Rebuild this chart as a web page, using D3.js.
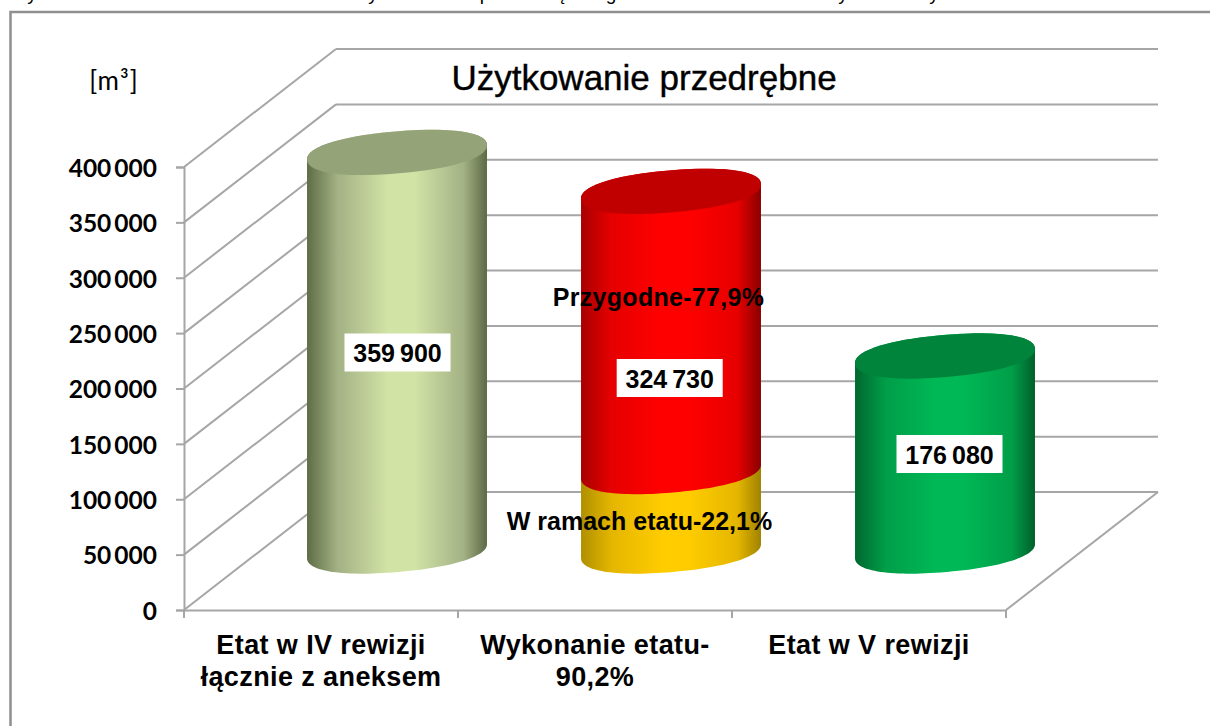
<!DOCTYPE html>
<html lang="pl">
<head>
<meta charset="utf-8">
<script src="https://cdn.jsdelivr.net/npm/d3@7"></script>
<style>
  html, body { margin: 0; background: #fff; overflow: hidden; }
  svg { display: block; }
  text { font-family: "Liberation Sans", Arial, sans-serif; fill: #000; }
  .ytick text { font-family: Lato, sans-serif; font-weight: 700; font-size: 24.5px; }
</style>
</head>
<body>
<div id="app"></div>
<script>
// data
const categories = ['Etat w IV rewizji łącznie z aneksem', 'Wykonanie etatu-90,2%', 'Etat w V rewizji'];
const categoryLines = [['Etat w IV rewizji', 'łącznie z aneksem'], ['Wykonanie etatu-', '90,2%'], ['Etat w V rewizji']];
const etatIV = [359900];
const wykonanie = [71765, 252965]; // w ramach etatu, przygodne
const etatV = [176080];
const barTotals = [359900, 324730, 176080];
const yTicks = [0, 50000, 100000, 150000, 200000, 250000, 300000, 350000, 400000];
const clippedGlyphs = [['y', 32], ['y', 373], ['p', 485], ['ą', 559], ['g', 611], ['y', 843], ['y', 934]];

const w = 1210;
const h = 726;
const depthX = 152;
const depthY = -118;
const gridColor = '#a6a6a6';

const xScale = d3.scaleBand().domain(categories).range([184, 1006]);
const yScale = d3.scaleLinear().domain([0, 400000]).range([610, 167]);

const fmt = d3.formatLocale({ decimal: ',', thousands: '\u2009', grouping: [3], currency: ['', ''] }).format(',d');

const svg = d3.select('#app').append('svg').attr('width', w).attr('height', h);
const defs = svg.append('defs');

function sideGradient(id, edgeL, mid, light, edgeR) {
  const g = defs.append('linearGradient').attr('id', id);
  [[0, edgeL], [0.17, mid], [0.45, light], [0.6, light], [0.87, mid], [1, edgeR]].forEach((s) => {
    g.append('stop').attr('offset', s[0]).attr('stop-color', s[1]);
  });
}
sideGradient('olive', '#5f6d46', '#a3b184', '#d2e3a6', '#5c6945');
sideGradient('red', '#a80000', '#e60000', '#ff0000', '#8a0000');
sideGradient('gold', '#b09000', '#e4b600', '#ffcc00', '#a08200');
sideGradient('green', '#00672f', '#009e48', '#00b856', '#005f2b');

// page frame and the cut off line of text above it
svg.append('path').attr('d', `M10.5,${h}V12H${w}`).attr('fill', 'none').attr('stroke', '#8f8f8f').attr('stroke-width', 2.5);
svg.selectAll('.cut').data(clippedGlyphs).enter().append('text').attr('class', 'cut')
  .attr('x', (d) => d[1]).attr('y', 0).attr('font-size', 19).attr('text-anchor', 'middle').text((d) => d[0]);

// walls
const walls = svg.append('g').attr('fill', 'none').attr('stroke', gridColor).attr('stroke-width', 2);
const xLeft = xScale.range()[0];
const xRight = xScale.range()[1];
walls.selectAll('.back').data(yTicks).enter().append('line')
  .attr('x1', xLeft + depthX).attr('x2', xRight + depthX)
  .attr('y1', (d) => yScale(d) + depthY).attr('y2', (d) => yScale(d) + depthY);
walls.selectAll('.side').data(yTicks).enter().append('line')
  .attr('x1', xLeft).attr('x2', xLeft + depthX)
  .attr('y1', (d) => yScale(d)).attr('y2', (d) => yScale(d) + depthY);
walls.append('line').attr('x1', xRight).attr('x2', xRight + depthX)
  .attr('y1', yScale(0)).attr('y2', yScale(0) + depthY);

// axes
const yAxis = d3.axisLeft(yScale).tickValues(yTicks).tickFormat(fmt).tickSize(8).tickPadding(19);
const yG = svg.append('g').attr('class', 'ytick').attr('transform', `translate(${xLeft},0)`).call(yAxis);
yG.selectAll('.domain').attr('stroke', gridColor).attr('stroke-width', 2);
yG.selectAll('.tick line').attr('stroke', gridColor).attr('stroke-width', 2);
yG.selectAll('text').attr('dy', '0.38em');

const xAxis = d3.axisBottom(xScale).tickSize(0).tickPadding(0).tickFormat('');
const xG = svg.append('g').attr('transform', `translate(0,${yScale(0)})`).call(xAxis);
xG.select('.domain').attr('stroke', gridColor).attr('stroke-width', 2);
xG.selectAll('.edge').data(xScale.domain().map((c) => xScale(c)).concat(xRight)).enter().append('line')
  .attr('x1', (d) => d).attr('x2', (d) => d).attr('y1', 0).attr('y2', 8)
  .attr('stroke', gridColor).attr('stroke-width', 2);
xG.selectAll('.tick text').each(function (d, i) {
  const t = d3.select(this).attr('y', 0).attr('dy', null).attr('font-size', 27).attr('font-weight', 700)
    .attr('letter-spacing', 0.4).attr('fill', '#000');
  categoryLines[i].forEach((line, k) => {
    t.append('tspan').attr('x', 0).attr('y', 44 + k * 32).text(line);
  });
});

// cylinders, the rims are slightly squarer than a true ellipse
const rx = 90.3;
const ry = 21;
const tilt = -4.9 * Math.PI / 180;
const rimPower = 2 / 2.2;
const rimLine = d3.line().curve(d3.curveLinear);
const barCx = (c) => xScale(c) + xScale.bandwidth() / 2 + depthX / 2;
const barY = (v) => yScale(v) + depthY / 2;

function rimPoints(cx, cy, from, to) {
  return d3.range(0, 61).map((i) => {
    const t = from + (to - from) * i / 60;
    const c = Math.cos(t);
    const s = Math.sin(t);
    const px = rx * Math.sign(c) * Math.pow(Math.abs(c), rimPower);
    const py = ry * Math.sign(s) * Math.pow(Math.abs(s), rimPower);
    return [cx + px * Math.cos(tilt) - py * Math.sin(tilt), cy + px * Math.sin(tilt) + py * Math.cos(tilt)];
  });
}

function drawSegment(c, v0, v1, fill) {
  const cx = barCx(c);
  // bottom rim left to right, then top rim right to left over its upper half
  const pts = rimPoints(cx, barY(v0), Math.PI, 0).concat(rimPoints(cx, barY(v1), 0, -Math.PI));
  svg.append('path').attr('d', rimLine(pts) + 'Z').attr('fill', `url(#${fill})`);
}
function drawTop(c, v, fill) {
  svg.append('path').attr('d', rimLine(rimPoints(barCx(c), barY(v), 0, 2 * Math.PI)) + 'Z').attr('fill', fill);
}

drawSegment(categories[0], 0, etatIV[0], 'olive');
drawTop(categories[0], etatIV[0], '#95a378');

drawSegment(categories[1], 0, wykonanie[0], 'gold');
drawSegment(categories[1], wykonanie[0], wykonanie[0] + wykonanie[1], 'red');
drawTop(categories[1], wykonanie[0] + wykonanie[1], '#c00000');

drawSegment(categories[2], 0, etatV[0], 'green');
drawTop(categories[2], etatV[0], '#00843c');

// value labels
const labelOffset = [[0.5, 352.5], [-1.3, 378], [4.5, 454]];
const labels = svg.selectAll('.valueLabel').data(barTotals).enter().append('g')
  .attr('class', 'valueLabel')
  .attr('transform', (d, i) => `translate(${barCx(categories[i]) + labelOffset[i][0]},${labelOffset[i][1]})`);
labels.append('rect').attr('x', -53).attr('y', -19).attr('width', 106).attr('height', 38).attr('fill', '#fff');
labels.append('text').attr('text-anchor', 'middle').attr('y', 9.5).attr('font-size', 25).attr('font-weight', 700)
  .text((d) => fmt(d));

// annotations
svg.append('text').attr('x', 658.5).attr('y', 306).attr('text-anchor', 'middle')
  .attr('font-size', 25).attr('font-weight', 700).attr('letter-spacing', 0.3).text('Przygodne-77,9%');
svg.append('text').attr('x', 639.5).attr('y', 530).attr('text-anchor', 'middle')
  .attr('font-size', 25).attr('font-weight', 700).text('W ramach etatu-22,1%');

// title and unit
svg.append('text').attr('x', 644).attr('y', 90).attr('text-anchor', 'middle')
  .attr('font-size', 35).attr('stroke', '#000').attr('stroke-width', 0.4).text('Użytkowanie przedrębne');
svg.append('text').attr('x', 114).attr('y', 89.5).attr('text-anchor', 'middle')
  .attr('font-size', 26).attr('letter-spacing', 1).style('font-family', 'Lato, sans-serif').text('[m³]');
</script>
</body>
</html>
